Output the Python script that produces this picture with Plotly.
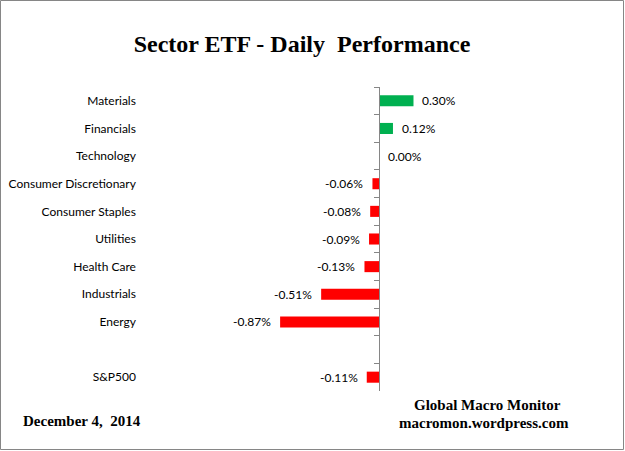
import plotly.graph_objects as go

categories = ["Materials", "Financials", "Technology", "Consumer Discretionary",
              "Consumer Staples", "Utilities", "Health Care", "Industrials",
              "Energy", " ", "S&P500"]
values = [0.30, 0.12, 0.00, -0.06, -0.08, -0.09, -0.13, -0.51, -0.87, None, -0.11]
labels = ["0.30%", "0.12%", "0.00%", "-0.06%", "-0.08%", "-0.09%", "-0.13%",
          "-0.51%", "-0.87%", "", "-0.11%"]

W, H = 625, 451
ML, MR, MT, MB = 140, 25, 87, 60
XMIN, XMAX = -2.099, 1.936
GREEN, RED = "#00B050", "#FF0000"
AXIS = "#868686"
LABEL_FONT = dict(family="Lato, Liberation Sans, sans-serif", size=12, color="#000000")

colors = [GREEN if (v is not None and v > 0) else RED for v in values]

fig = go.Figure()
fig.add_trace(go.Bar(
    y=categories, x=values, orientation="h",
    marker=dict(color=colors, line=dict(width=0)),
    width=0.4, hoverinfo="skip", showlegend=False,
))

for c, v, t in zip(categories, values, labels):
    if v is None:
        continue
    pos = v >= 0
    fig.add_annotation(
        x=v, y=c, xref="x", yref="y", text=t, showarrow=False,
        xanchor="left" if pos else "right", yanchor="middle",
        xshift=7 if pos else -7, font=LABEL_FONT,
    )

zero_pos = (0 - XMIN) / (XMAX - XMIN)

fig.update_layout(
    width=W, height=H,
    margin=dict(l=ML, r=MR, t=MT, b=MB, pad=0, autoexpand=False),
    paper_bgcolor="white", plot_bgcolor="white",
    bargap=0.6,
    title=dict(
        text="<b>Sector ETF - Daily  Performance</b>",
        font=dict(family="Liberation Serif, Times New Roman, serif", size=24, color="#000000"),
        x=302 / W, xanchor="center", xref="container",
        y=1 - 44 / H, yanchor="middle", yref="container",
    ),
    xaxis=dict(range=[XMIN, XMAX], visible=False, showgrid=False, zeroline=False,
               automargin=False),
    yaxis=dict(
        type="category", range=[len(categories) - 0.5, -0.5],
        anchor="free", position=zero_pos, automargin=False,
        showline=True, linecolor=AXIS, linewidth=1,
        ticks="outside", ticklen=5, tickcolor=AXIS, tickwidth=1,
        tickson="boundaries",
        showgrid=False, zeroline=False,
        ticklabelstandoff=241,
        tickfont=LABEL_FONT,
    ),
)

footer_font = dict(family="Liberation Serif, Times New Roman, serif", size=15, color="#000000")
pw = W - ML - MR
ph = H - MT - MB
def px_x(p):
    return (p - ML) / pw
def px_y(p):
    return (H - MB - p) / ph

fig.add_annotation(text="<b>December 4,  2014</b>", xref="paper", yref="paper",
                   x=px_x(21), y=px_y(421), xanchor="left", yanchor="middle",
                   showarrow=False, font=footer_font)
fig.add_annotation(text="<b>Global Macro Monitor</b>", xref="paper", yref="paper",
                   x=px_x(487), y=px_y(405), xanchor="center", yanchor="middle",
                   showarrow=False, font=footer_font)
fig.add_annotation(text="<b>macromon.wordpress.com</b>", xref="paper", yref="paper",
                   x=px_x(484), y=px_y(423), xanchor="center", yanchor="middle",
                   showarrow=False, font=footer_font)

fig.add_shape(type="rect", xref="paper", yref="paper",
              x0=px_x(0.5), x1=px_x(623.5), y0=px_y(449.5), y1=px_y(0.5),
              line=dict(color=AXIS, width=1), fillcolor="rgba(0,0,0,0)", layer="below")

fig.write_html("out.html", config={"displayModeBar": False},
               post_script="document.body.style.margin='0';document.body.style.overflow='hidden';")
